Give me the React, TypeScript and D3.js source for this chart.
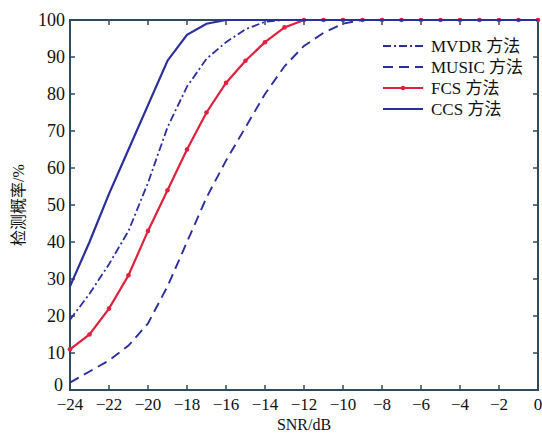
import React from "react";
import * as d3 from "d3";

const snr = [-24, -23, -22, -21, -20, -19, -18, -17, -16, -15, -14, -13, -12, -11, -10, -9, -8, -7, -6, -5, -4, -3, -2, -1, 0];
const mvdr = [19, 26, 34, 43, 56, 71, 82, 89.5, 94, 97.5, 99.5, 100, 100, 100, 100, 100, 100, 100, 100, 100, 100, 100, 100, 100, 100];
const music = [2, 5, 8, 12, 18, 28, 40, 52, 62, 71, 80, 87.5, 93, 96.5, 99, 100, 100, 100, 100, 100, 100, 100, 100, 100, 100];
const fcs = [11, 15, 22, 31, 43, 54, 65, 75, 83, 89, 94, 98, 100, 100, 100, 100, 100, 100, 100, 100, 100, 100, 100, 100, 100];
const ccs = [28, 40, 53, 65, 77, 89, 96, 99, 100, 100, 100, 100, 100, 100, 100, 100, 100, 100, 100, 100, 100, 100, 100, 100, 100];
const xTicks = [-24, -22, -20, -18, -16, -14, -12, -10, -8, -6, -4, -2, 0];
const yTicks = [0, 10, 20, 30, 40, 50, 60, 70, 80, 90, 100];
const legendNames = ["MVDR 方法", "MUSIC 方法", "FCS 方法", "CCS 方法"];

const W = 542, H = 433;
const L = 70, R = 538, T = 20, B = 390;
const axisColor = "#2f4a58";
const blue = "#2b2f9e";
const red = "#e0203c";
const font = "'Liberation Serif', 'Noto Sans CJK SC', serif";

export default function App() {
  const x = d3.scaleLinear().domain([-24, 0]).range([L, R]);
  const y = d3.scaleLinear().domain([0, 100]).range([B, T]);
  const line = (vals: number[]) =>
    d3.line<number>().x((_, i) => x(snr[i])).y((v) => y(v))(vals) || "";

  const styles = [
    { color: blue, dash: "8,3,2,3", width: 1.8 },
    { color: blue, dash: "10,6", width: 1.9 },
    { color: red, dash: undefined as string | undefined, width: 2.2 },
    { color: blue, dash: undefined as string | undefined, width: 2.2 },
  ];

  return (
    <svg width={W} height={H} style={{ position: "absolute", left: 0, top: 0, background: "#fff" }}>
      <rect x={0} y={0} width={W} height={H} fill="#fff" />
      <rect x={L} y={T} width={R - L} height={B - T} fill="none" stroke={axisColor} strokeWidth={2} />
      {xTicks.map((t) => (
        <g key={"xt" + t}>
          <line x1={x(t)} x2={x(t)} y1={B} y2={B - 5} stroke={axisColor} strokeWidth={1.5} />
          <line x1={x(t)} x2={x(t)} y1={T} y2={T + 5} stroke={axisColor} strokeWidth={1.5} />
          <text x={x(t)} y={410} textAnchor="middle" fontFamily={font} fontSize={17} fill="#111">
            {t < 0 ? "\u2212" + Math.abs(t) : t}
          </text>
        </g>
      ))}
      {yTicks.map((t) => (
        <g key={"yt" + t}>
          <line x1={L} x2={L + 5} y1={y(t)} y2={y(t)} stroke={axisColor} strokeWidth={1.5} />
          <line x1={R} x2={R - 5} y1={y(t)} y2={y(t)} stroke={axisColor} strokeWidth={1.5} />
          <text x={t === 0 ? 63 : 65} y={y(t) + (t === 0 ? 1 : 6)} textAnchor="end" fontFamily={font} fontSize={18} fill="#111">
            {t}
          </text>
        </g>
      ))}
      <text x={(L + R) / 2} y={430} textAnchor="middle" fontFamily={font} fontSize={16} fill="#111">
        SNR/dB
      </text>
      <text
        transform={`translate(24,${(T + B) / 2}) rotate(-90)`}
        textAnchor="middle"
        fontFamily={font}
        fontSize={16}
        fill="#111"
      >
        检测概率/%
      </text>

      <path d={line(music)} fill="none" stroke={blue} strokeWidth={styles[1].width} strokeDasharray={styles[1].dash} />
      <path d={line(mvdr)} fill="none" stroke={blue} strokeWidth={styles[0].width} strokeDasharray={styles[0].dash} />
      <path d={line(fcs)} fill="none" stroke={red} strokeWidth={styles[2].width} />
      {fcs.map((v, i) => (
        <circle key={"m" + i} cx={x(snr[i])} cy={y(v)} r={2.3} fill={red} />
      ))}
      <path d={line(ccs)} fill="none" stroke={blue} strokeWidth={styles[3].width} />

      {legendNames.map((n, i) => {
        const ly = 46 + i * 21;
        const s = styles[i];
        return (
          <g key={"lg" + i}>
            <line x1={383} x2={423} y1={ly} y2={ly} stroke={s.color} strokeWidth={s.width} strokeDasharray={s.dash} />
            {i === 2 && <circle cx={403} cy={ly} r={2.3} fill={red} />}
            <text x={431} y={ly + 6} fontFamily={font} fontSize={17} fill="#111">
              {n}
            </text>
          </g>
        );
      })}
    </svg>
  );
}
